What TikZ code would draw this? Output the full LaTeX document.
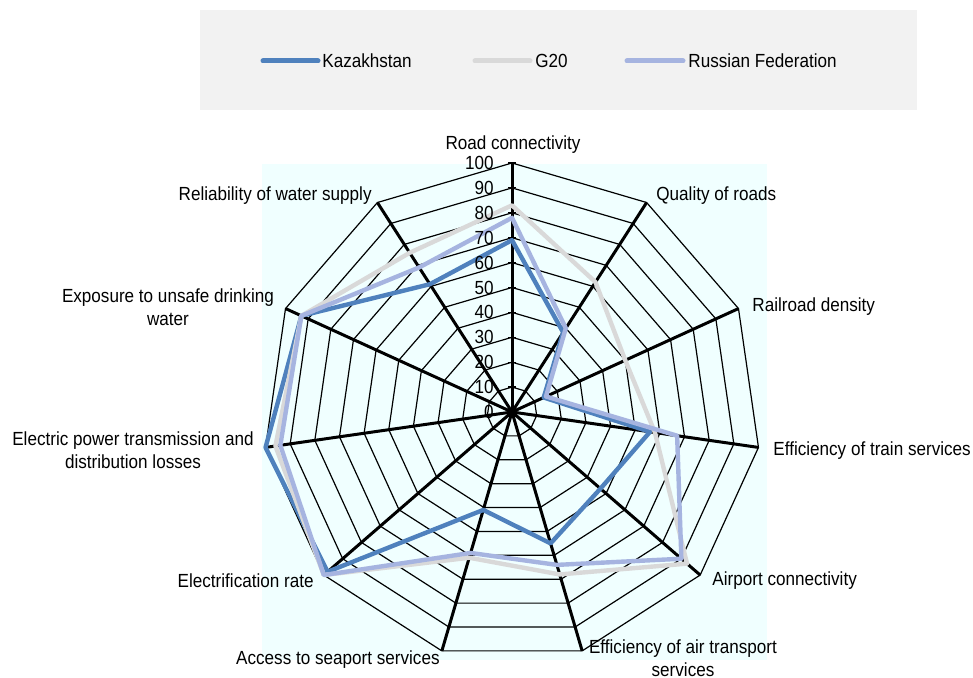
\documentclass[tikz,border=0pt]{standalone}
\usepackage{fontspec}
\setmainfont{Liberation Sans}[FakeStretch=0.9]
\usepackage{tikz}
\usetikzlibrary{positioning}
\usetikzlibrary{calc}

\definecolor{kazblue}{RGB}{79,129,189}
\definecolor{gtwgray}{RGB}{217,217,217}
\definecolor{rusblue}{RGB}{166,180,224}
\definecolor{plotbg}{RGB}{240,255,255}
\definecolor{legendbg}{RGB}{242,242,242}

\tikzset{
	ring/.style={black, line width=0.6pt},
	spoke/.style={black, line width=1.5pt},
	series/.style={line width=2.2pt, line join=round},
	legline/.style={line width=2.5pt, line cap=round},
	lab/.style={font=\fontsize{9.5}{11.5}\selectfont, inner sep=0pt, align=center},
	ticklab/.style={font=\fontsize{9.5}{11.5}\selectfont, inner sep=0pt, anchor=east}
}

\begin{document}
\begin{tikzpicture}[x=0.5pt, y=0.5pt]

	\useasboundingbox (0,0) rectangle (973,678);
	\fill[white] (0,0) rectangle (973,678);

	%Legend
	\fill[legendbg] (200,568) rectangle (917,668);
	\coordinate (KazA) at (263,617);
	\coordinate (KazB) at (318,617);
	\coordinate (GtwA) at (475,617);
	\coordinate (GtwB) at (530,617);
	\coordinate (RusA) at (627,617);
	\coordinate (RusB) at (683,617);
	\draw[legline, kazblue] (KazA) -- (KazB);
	\draw[legline, gtwgray] (GtwA) -- (GtwB);
	\draw[legline, rusblue] (RusA) -- (RusB);
	\node[lab, right=2pt of KazB] (KazL) {Kazakhstan};
	\node[lab, right=2.5pt of GtwB] (GtwL) {G20};
	\node[lab, right=2.5pt of RusB] (RusL) {Russian Federation};

	%Plot area
	\fill[plotbg] (262,18) rectangle (767,514);

	%%%%%%%%%%%%%%%%%%%%%%%%%%%%%%%%%%%%%%%%%%%%%%%%%%%%%%%%%
	\begin{scope}[shift={(512,266)}]

		%Rings
		\foreach \k in {1,...,10}
			\draw[ring] (90:{\k*24.9}) \foreach \i in {1,...,10} { -- ({90-\i*360/11}:{\k*24.9}) } -- cycle;

		%Spokes
		\foreach \i in {0,...,10} {
			\coordinate (Ax\i) at ({90-\i*360/11}:249);
			\draw[spoke] (0,0) -- (Ax\i);
		}

		%Ticks
		\foreach \v in {0,10,...,100}
			\draw[ring] (-4,{\v*2.49}) -- (4,{\v*2.49});

		%Series
		\draw[series, kazblue] (90:{69*2.49}) \foreach \v [count=\i] in {38,14,56,47,55,41,98,100,93,61} { -- ({90-\i*360/11}:{\v*2.49}) } -- cycle;
		\draw[series, gtwgray] (90:{83*2.49}) \foreach \v [count=\i] in {62,50,58,93,68,61,100,96,93,76} { -- ({90-\i*360/11}:{\v*2.49}) } -- cycle;
		\draw[series, rusblue] (90:{78*2.49}) \foreach \v [count=\i] in {40,15,67,90,64,59,100,94,93,69} { -- ({90-\i*360/11}:{\v*2.49}) } -- cycle;

		%Tick labels
		\foreach \v in {0,10,...,100}
			\node[ticklab] (T\v) at (-18,{\v*2.49}) {\v};

	\end{scope}
	%%%%%%%%%%%%%%%%%%%%%%%%%%%%%%%%%%%%%%%%%%%%%%%%%%%%%%%%%

	%Axis labels
	\node[lab] (Road) at (513,533) {Road connectivity};
	\node[lab, anchor=west] (Quality) at (656,482) {Quality of roads};
	\node[lab, anchor=west] (Rail) at (752,371) {Railroad density};
	\node[lab, anchor=west] (Train) at (773,227) {Efficiency of train services};
	\node[lab, anchor=west] (Airport) at (712,97) {Airport connectivity};
	\node[lab] (AirTrans) at (683,20) {Efficiency of air transport\\services};
	\node[lab, anchor=east] (Seaport) at (440,18) {Access to seaport services};
	\node[lab, anchor=east] (Electr) at (314,97) {Electrification rate};
	\node[lab] (Losses) at (133,228) {Electric power transmission and\\distribution losses};
	\node[lab] (Unsafe) at (168,371) {Exposure to unsafe drinking\\water};
	\node[lab, anchor=east] (Water) at (372,482) {Reliability of water supply};

\end{tikzpicture}
\end{document}
